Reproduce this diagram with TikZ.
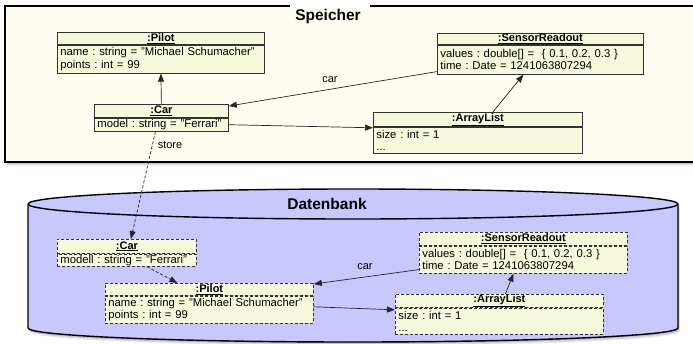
\documentclass[tikz,border=0pt]{standalone}
\usepackage{fontspec}
\setmainfont{Liberation Sans}
\usetikzlibrary{arrows.meta}
\frenchspacing

\definecolor{memfill}{HTML}{FFFDF0}
\definecolor{objfill}{HTML}{F6F9DC}
\definecolor{dbfill}{HTML}{C8C8FF}

\tikzset{
  objhead/.style={draw=black!80, fill=objfill, line width=0.8pt, inner sep=0pt,
    font=\fontsize{11}{12.5}\selectfont\bfseries, anchor=north west},
  objbody/.style={draw=black!80, fill=objfill, line width=0.8pt, inner xsep=3pt,
    inner ysep=0pt, align=left, font=\fontsize{11.3}{12.5}\selectfont, anchor=north west},
  persisted/.style={dash pattern=on 3pt off 2pt},
  link/.style={-{Triangle[length=8pt,width=6pt]}, line width=0.7pt, draw=black!85},
  lbl/.style={font=\fontsize{11}{12}\selectfont, inner sep=0pt},
  areatitle/.style={font=\fontsize{15.5}{16}\selectfont\bfseries, inner sep=0pt},
}

\begin{document}
\begin{tikzpicture}[x=1pt, y=-1pt]
\useasboundingbox (0,0) rectangle (693,343);

% ---- in-memory area ----
\foreach \s/\o in {1/0.12, 2/0.10, 3/0.08, 4/0.06} {
  \fill[black, opacity=\o, shift={(0.5*\s,\s)}] (5,6) rectangle (700,162);
}
\draw[line width=2pt, fill=memfill] (5,6) rectangle (700,162);
\fill[white] (290,0) rectangle (370,8);
\node[areatitle] (memtitle) at (328,16) {Speicher};

% ---- database cylinder ----
\foreach \s/\o in {1/0.12, 2/0.10, 3/0.08, 4/0.06} {
  \fill[black, opacity=\o, shift={(0.5*\s,\s)}]
    (28,204) -- (28,328) arc[start angle=180, end angle=360, x radius=325pt, y radius=14pt]
    -- (678,204) arc[start angle=0, end angle=180, x radius=325pt, y radius=15pt] -- cycle;
}
\draw[line width=1.4pt, fill=dbfill]
  (28,204) -- (28,328) arc[start angle=180, end angle=360, x radius=325pt, y radius=14pt]
  -- (678,204) arc[start angle=0, end angle=180, x radius=325pt, y radius=15pt] -- cycle;
\draw[line width=1.4pt] (28,204) arc[start angle=180, end angle=360, x radius=325pt, y radius=15pt];
\node[areatitle] (dbtitle) at (327,204) {Datenbank};

% ---- objects in memory ----
\node[objhead, minimum width=207pt, minimum height=12pt] (pilotH) at (57,32) {\underline{:Pilot}};
\node[objbody, text width=201pt, minimum height=28pt] (pilotB) at (pilotH.south west)
  {name : string = "Michael Schumacher"\\points : int = 99};

\node[objhead, minimum width=134pt, minimum height=13pt] (carH) at (94,104) {\underline{:Car}};
\node[objbody, text width=128pt, minimum height=13pt] (carB) at (carH.south west)
  {model : string = "Ferrari"};

\node[objhead, minimum width=206pt, minimum height=11pt] (srH) at (437,33) {\underline{:SensorReadout}};
\node[objbody, text width=200pt, minimum height=29pt] (srB) at (srH.south west)
  {values : double[] = \ \{ 0.1, 0.2, 0.3 \}\\time : Date = 1241063807294};

\node[objhead, minimum width=209pt, minimum height=14pt] (alH) at (373,112) {\underline{:ArrayList}};
\node[objbody, text width=203pt, minimum height=26pt] (alB) at (alH.south west)
  {size : int = 1\\...};

% ---- persisted objects ----
\node[objhead, persisted, minimum width=139pt, minimum height=14pt] (dcarH) at (57,239) {\underline{:Car}};
\node[objbody, persisted, text width=133pt, minimum height=12pt] (dcarB) at (dcarH.south west)
  {modell : string = "Ferrari"};

\node[objhead, persisted, minimum width=208pt, minimum height=12pt] (dpilotH) at (105,283) {\underline{:Pilot}};
\node[objbody, persisted, text width=202pt, minimum height=27pt] (dpilotB) at (dpilotH.south west)
  {name : string = "Michael Schumacher"\\points : int = 99};

\node[objhead, persisted, minimum width=208pt, minimum height=13pt] (dsrH) at (419,232) {\underline{:SensorReadout}};
\node[objbody, persisted, text width=202pt, minimum height=27pt] (dsrB) at (dsrH.south west)
  {values : double[] = \ \{ 0.1, 0.2, 0.3 \}\\time : Date = 1241063807294};

\node[objhead, persisted, minimum width=208pt, minimum height=13pt] (dalH) at (395,294) {\underline{:ArrayList}};
\node[objbody, persisted, text width=202pt, minimum height=26pt] (dalB) at (dalH.south west)
  {size : int = 1\\...};

% ---- links in memory ----
\draw[link] (carH.north) -- (pilotB.south);
\draw[link] ([yshift=3pt]srB.south west) -- ([yshift=-2pt]carH.north east);
\draw[link] (carB.east) -- ([yshift=-1pt]alB.north west);
\draw[link] ([xshift=15pt]alH.north) -- ([xshift=-17pt]srB.south);
\node[lbl] (carlbl) at (330,80) {car};

% ---- store ----
\draw[link, persisted] ([xshift=-6pt]carB.south) -- ([xshift=4pt]dcarH.north);
\node[lbl] (storelbl) at (170,145) {store};

% ---- links in the database ----
\draw[link, persisted] ([xshift=20pt]dcarB.south) -- ([xshift=-32pt]dpilotH.north);
\draw[link] ([yshift=4pt]dsrB.south west) -- ([yshift=-1pt]dpilotH.north east);
\draw[link] ([yshift=-11pt]dpilotB.north east) -- ([yshift=-2pt]dalB.north west);
\draw[link] ([xshift=6pt]dalH.north) -- ([xshift=-10pt]dsrB.south);
\node[lbl] (dcarlbl) at (365,267) {car};
\end{tikzpicture}
\end{document}
